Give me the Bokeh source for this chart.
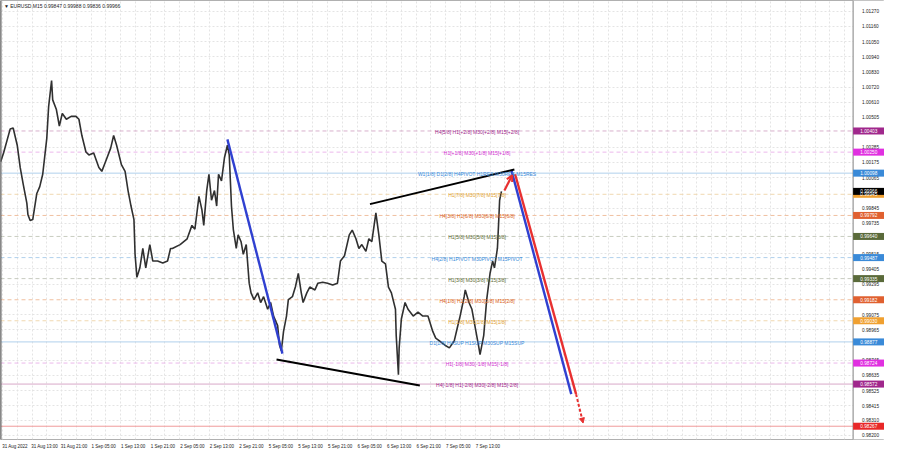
from bokeh.plotting import figure
from bokeh.models import (FixedTicker, Label, Arrow, OpenHead, NormalHead, PrintfTickFormatter,
                          ColumnDataSource, Span, LinearAxis, BoxAnnotation)
from bokeh.core.properties import value
from bokeh.embed import file_html
from bokeh.resources import INLINE

FONT = "Liberation Sans"

# ---- price path (hours since 31 Aug 05:00, trading time) ----
hours = [-0.5, 0.3, 2.1, 2.9, 4.0, 4.8, 5.6, 6.6, 6.9, 7.5, 8.2, 9.3, 10.1, 10.9, 12.0, 12.5, 13.3, 13.6,
         14.6, 15.4, 16.2, 17.3, 18.6, 19.9, 20.7, 21.5, 22.6, 23.4, 24.7, 26.1, 26.9, 27.9, 29.3, 30.1,
         30.9, 32.2, 33.2, 34.0, 34.8, 35.6, 35.9, 36.4, 37.2, 38.0, 38.8, 39.9, 40.7, 42.0, 43.4, 44.7,
         45.5, 46.0, 48.1, 50.0, 51.3, 52.1, 53.2, 54.0, 54.5, 55.3, 55.9, 56.6, 57.4, 58.0, 58.5, 59.3,
         60.1, 60.9, 61.4, 62.0, 62.5, 63.3, 63.8, 64.6, 65.2, 66.0, 66.8, 67.3, 68.1, 69.1, 69.9, 70.7,
         71.8, 72.6, 73.4, 74.5, 75.0, 75.5, 76.1, 76.9, 77.4, 78.5, 79.3, 80.1, 80.9, 81.4, 82.4, 83.2,
         84.6, 85.4, 86.7, 88.0, 89.4, 90.7, 91.5, 92.6, 93.9, 94.7, 95.7, 96.5, 97.3, 98.4, 99.2, 100.0,
         101.1, 101.9, 102.7, 103.7, 104.5, 105.3, 106.4, 106.6, 107.2, 107.4, 108.0, 109.0, 109.8, 111.2,
         112.5, 113.8, 115.2, 116.5, 117.3, 118.4, 119.7, 121.0, 122.3, 123.1, 123.9, 125.0, 125.3, 126.3,
         127.1, 127.9, 129.0, 129.3, 130.3, 131.1, 132.0, 132.7, 133.2, 134.0, 134.3, 134.6, 135.1]
closes = [1.00181, 1.00244, 1.00418, 1.00425, 1.00300, 1.00139, 1.00021, 0.99881, 0.99797, 0.99755, 0.99762,
          0.99951, 1.00000, 1.00090, 1.00349, 1.00579, 1.00768, 1.00628, 1.00558, 1.00439, 1.00530, 1.00488,
          1.00509, 1.00509, 1.00488, 1.00370, 1.00251, 1.00230, 1.00244, 1.00139, 1.00111, 1.00181, 1.00279,
          1.00370, 1.00300, 1.00160, 1.00111, 0.99972, 0.99860, 0.99762, 0.99511, 0.99344, 0.99413, 0.99553,
          0.99413, 0.99581, 0.99462, 0.99462, 0.99448, 0.99462, 0.99553, 0.99553, 0.99581, 0.99623, 0.99720,
          0.99692, 0.99930, 0.99832, 0.99720, 0.99972, 1.00090, 0.99902, 0.99972, 0.99860, 1.00090, 1.00042,
          1.00209, 1.00300, 1.00230, 0.99860, 0.99692, 0.99553, 0.99651, 0.99602, 0.99511, 0.99581, 0.99302,
          0.99232, 0.99183, 0.99232, 0.99162, 0.99204, 0.99113, 0.99162, 0.99064, 0.98995, 0.98855, 0.98813,
          0.98953, 0.99064, 0.99183, 0.99204, 0.99274, 0.99372, 0.99232, 0.99162, 0.99232, 0.99274, 0.99253,
          0.99302, 0.99309, 0.99302, 0.99288, 0.99302, 0.99462, 0.99500, 0.99651, 0.99686, 0.99623, 0.99553,
          0.99581, 0.99532, 0.99623, 0.99602, 0.99811, 0.99651, 0.99462, 0.99441, 0.99274, 0.99232, 0.99113,
          0.98925, 0.98640, 0.98834, 0.99043, 0.99162, 0.99113, 0.99064, 0.99092, 0.99064, 0.99064, 0.98953,
          0.98904, 0.98883, 0.98855, 0.98834, 0.98883, 0.98974, 0.99064, 0.99204, 0.99253, 0.99162, 0.99113,
          0.98995, 0.98834, 0.98785, 0.98925, 0.99183, 0.99372, 0.99462, 0.99413, 0.99553, 0.99720, 0.99902,
          0.99966]

# ---- Murrey-math style levels ----
level_values = [1.00403, 1.00250, 1.00098, 0.99945, 0.99792, 0.99640, 0.99487, 0.99335, 0.99182,
                0.99030, 0.98877, 0.98724, 0.98572]
level_texts = ["H4[5/8] H1[+2/8] M30[+2/8] M15[+2/8]",
               "H1[+1/8] M30[+1/8] M15[+1/8]",
               "W1[1/8] D1[2/8] H4PIVOT H1RES M30RES M15RES",
               "H1[7/8] M30[7/8] M15[7/8]",
               "H4[3/8] H1[6/8] M30[6/8] M15[6/8]",
               "H1[5/8] M30[5/8] M15[5/8]",
               "H4[2/8] H1PIVOT M30PIVOT M15PIVOT",
               "H1[3/8] M30[3/8] M15[3/8]",
               "H4[1/8] H1[2/8] M30[2/8] M15[2/8]",
               "H1[1/8] M30[1/8] M15[1/8]",
               "D1[1/8] H4SUP H1SUP M30SUP M15SUP",
               "H1[-1/8] M30[-1/8] M15[-1/8]",
               "H4[-1/8] H1[-2/8] M30[-2/8] M15[-2/8]"]
level_text_colors = ["#a0288c", "#d030d0", "#3a8ad8", "#e0a030", "#d86020", "#5a6a30", "#3a8ad8",
                     "#5a6a30", "#d86020", "#e0a030", "#3a8ad8", "#d030d0", "#a0288c"]
level_line_colors = ["#d8b0cc", "#ecb8ec", "#b0d0ec", "#f0d8b0", "#f0c0a0", "#c8ccc0", "#b0d0ec",
                     "#c8ccc0", "#f0c0a0", "#f0d8b0", "#b0d0ec", "#ecb8ec", "#d8a8c8"]
level_line_solid = [False, False, True, False, False, False, False,
                    False, False, False, True, False, True]
level_box_colors = ["#a0288c", "#e030e0", "#3a8ad8", "#f0a030", "#e06030", "#5a6a3a", "#3a8ad8",
                    "#5a6a3a", "#e06030", "#f0a030", "#3a8ad8", "#e030e0", "#a0288c"]

bottom_level = 0.98267
bid_price = 0.99966

# ---- axis ticks ----
price_ticks = [1.01270, 1.01160, 1.01050, 1.00940, 1.00830, 1.00720, 1.00610, 1.00505, 1.00285,
               1.00175, 1.00065, 0.99845, 0.99735, 0.99515, 0.99405, 0.99295, 0.99075, 0.98965,
               0.98745, 0.98635, 0.98525, 0.98415, 0.98310, 0.98200]
time_labels = ["31 Aug 2022", "31 Aug 13:00", "31 Aug 21:00", "1 Sep 05:00", "1 Sep 13:00",
               "1 Sep 21:00", "2 Sep 05:00", "2 Sep 13:00", "2 Sep 21:00", "5 Sep 05:00",
               "5 Sep 13:00", "5 Sep 21:00", "6 Sep 05:00", "6 Sep 13:00", "6 Sep 21:00",
               "7 Sep 05:00", "7 Sep 13:00"]
time_label_hours = [0, 8, 16, 24, 32, 40, 48, 56, 64, 72, 80, 88, 96, 104, 112, 120, 128]

# ---- drawn trend lines (x0, y0, x1, y1) ----
blue_lines = [(60.9, 1.00342, 75.8, 0.98792), (137.8, 1.00118, 154.0, 0.98499)]
black_lines = [(74.2, 0.98750, 113.0, 0.98562), (99.5, 0.99874, 138.6, 1.00125)]
red_line = (138.8, 1.00090, 155.3, 0.98499)
red_up_arrow = (135.9, 0.99972, 138.0, 1.00083)
red_down_arrow = (155.3, 0.98499, 157.2, 0.98290)

title_text = "EURUSD,M15  0.99847 0.99988 0.99836 0.99966"

X0, X_BORDER, X1 = -0.53, 230.3, 238.8

p = figure(width=884, height=452, x_range=(X0, X1), y_range=(0.98171, 1.01347),
           output_backend="svg", toolbar_location=None, y_axis_location=None,
           min_border_left=0, min_border_right=0, min_border_top=0, min_border_bottom=13,
           background_fill_color="white", border_fill_color="white")
p.outline_line_color = "#b0b0b0"

# grids
p.xgrid.ticker = FixedTicker(ticks=list(range(0, 230, 4)))
p.ygrid.ticker = FixedTicker(ticks=price_ticks)
for g in (p.xgrid, p.ygrid):
    g.grid_line_color = "#e4e4e4"
    g.grid_line_dash = "2 2"
    g.grid_line_width = 1

# blank price-scale strip and chart border
p.add_layout(BoxAnnotation(left=X_BORDER, fill_color="white", fill_alpha=1.0, line_color=None,
                           level="underlay"))
p.add_layout(Span(location=X_BORDER, dimension="height", line_color="#808080", line_width=1))
p.add_layout(Span(location=X0, dimension="height", line_color="#606060", line_width=2))

# level lines (stop at the chart border)
for solid in (True, False):
    ys = [v for v, s in zip(level_values, level_line_solid) if s == solid]
    cs = [c for c, s in zip(level_line_colors, level_line_solid) if s == solid]
    p.segment(x0=[X0] * len(ys), y0=ys, x1=[X_BORDER] * len(ys), y1=ys, line_color=cs,
              line_width=1, line_dash="solid" if solid else "4 3")
p.segment(x0=[X0], y0=[bottom_level], x1=[X_BORDER], y1=[bottom_level], line_color="#f09a9a",
          line_width=1)

# right price axis drawn at the chart border
ya = LinearAxis(fixed_location=X_BORDER)
ya.ticker = FixedTicker(ticks=price_ticks)
ya.formatter = PrintfTickFormatter(format="%.5f")
ya.axis_line_color = None
ya.major_tick_line_color = None
ya.minor_tick_line_color = None
ya.major_tick_out = 0
ya.major_tick_in = 0
ya.major_label_standoff = 9
ya.major_label_text_font = FONT
ya.major_label_text_font_size = "4.7px"
ya.major_label_text_color = "#222222"
p.add_layout(ya, "right")

# bottom axis (labels start at their tick, so shift centres right)
xa = p.xaxis[0]
tick_pos = [h + 3.4 for h in time_label_hours]
xa.ticker = FixedTicker(ticks=tick_pos)
xa.major_label_overrides = {t: lab for t, lab in zip(tick_pos, time_labels)}
xa.axis_line_color = None
xa.major_tick_line_color = None
xa.minor_tick_line_color = None
xa.major_tick_out = 0
xa.major_label_standoff = 4
xa.major_label_text_font = FONT
xa.major_label_text_font_size = "4.5px"
xa.major_label_text_color = "#222222"

# price series
p.line(hours, closes, line_color="#303030", line_width=1.6)

# trend lines
for (x0, y0, x1, y1) in blue_lines:
    p.segment(x0=[x0], y0=[y0], x1=[x1], y1=[y1], line_color="#3040d0", line_width=2.4)
for (x0, y0, x1, y1) in black_lines:
    p.segment(x0=[x0], y0=[y0], x1=[x1], y1=[y1], line_color="#000000", line_width=2)
p.segment(x0=[red_line[0]], y0=[red_line[1]], x1=[red_line[2]], y1=[red_line[3]],
          line_color="#e83030", line_width=2.4)
p.add_layout(Arrow(x_start=red_up_arrow[0], y_start=red_up_arrow[1], x_end=red_up_arrow[2],
                   y_end=red_up_arrow[3], line_color="#e83030", line_width=2.2,
                   end=OpenHead(size=6, line_color="#e83030", line_width=2)))
p.add_layout(Arrow(x_start=red_down_arrow[0], y_start=red_down_arrow[1], x_end=red_down_arrow[2],
                   y_end=red_down_arrow[3], line_color="#e83030", line_width=2, line_dash="3 2",
                   end=NormalHead(size=5, fill_color="#e83030", line_color="#e83030")))

# level texts
src = ColumnDataSource(dict(x=[128.5] * len(level_values), y=level_values, t=level_texts,
                            c=level_text_colors))
p.text(x="x", y="y", text="t", text_color="c", source=src, text_font=value(FONT),
       text_font_size="5px", text_align="center", text_baseline="middle", y_offset=1)

# highlighted price boxes on the price scale
box_vals = level_values + [bottom_level, bid_price]
box_cols = level_box_colors + ["#e82828", "#000000"]
bsrc = ColumnDataSource(dict(x=[(X_BORDER + X1) / 2] * len(box_vals), y=box_vals,
                             t=["%.5f" % v for v in box_vals], c=box_cols))
p.rect(x="x", y="y", width=X1 - X_BORDER, height=7, height_units="screen", fill_color="c",
       line_color=None, source=bsrc, level="overlay")
p.text(x="x", y="y", text="t", source=bsrc, text_color="white", text_font=value(FONT),
       text_font_size="4.7px", text_align="center", text_baseline="middle", level="overlay")

# title
p.add_layout(Label(x=0.4, y=1.01306, text="\u25BC  " + title_text, text_font=FONT,
                   text_font_size="5px", text_color="#222222", text_baseline="middle"))

open("out.html", "w").write(file_html(p, INLINE))
